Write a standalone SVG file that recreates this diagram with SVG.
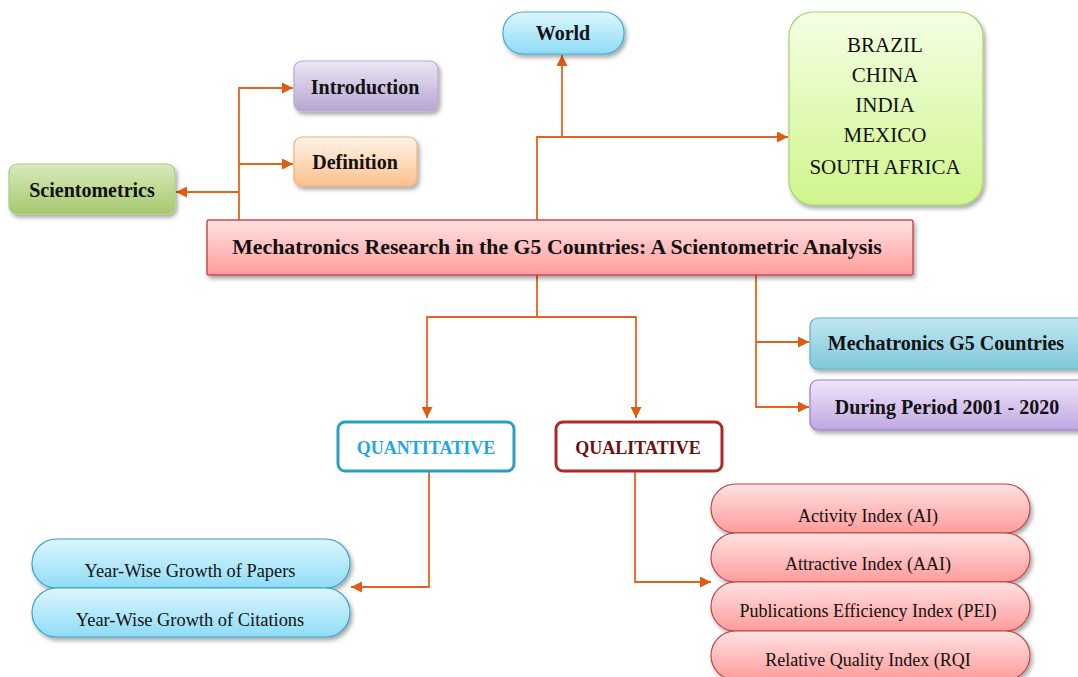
<svg xmlns="http://www.w3.org/2000/svg" width="1078" height="677" viewBox="0 0 1078 677">
<defs>
<style>
.b{font-family:"Liberation Serif","Times New Roman",serif;font-weight:bold;font-size:20px;fill:#111;text-anchor:middle}
.r{font-family:"Liberation Serif","Times New Roman",serif;font-size:18px;fill:#111;text-anchor:middle}
.c{fill:none;stroke:#e8621e;stroke-width:1.8;marker-end:url(#ah)}
.l{fill:none;stroke:#e8621e;stroke-width:1.8}
</style>
<marker id="ah" viewBox="0 0 10 10" refX="10" refY="5" markerWidth="11" markerHeight="11" markerUnits="userSpaceOnUse" orient="auto"><path d="M0,0 L10,5 L0,10 z" fill="#e05a10"/></marker>
<filter id="sh" x="-10%" y="-20%" width="130%" height="160%"><feDropShadow dx="2" dy="3" stdDeviation="2" flood-color="#000" flood-opacity="0.35"/></filter>
<linearGradient id="gGreen" x1="0" y1="0" x2="0" y2="1"><stop offset="0" stop-color="#d8ebbc"/><stop offset="1" stop-color="#a6c86c"/></linearGradient>
<linearGradient id="gPurple" x1="0" y1="0" x2="0" y2="1"><stop offset="0" stop-color="#ece6f4"/><stop offset="1" stop-color="#b6a6d2"/></linearGradient>
<linearGradient id="gOrange" x1="0" y1="0" x2="0" y2="1"><stop offset="0" stop-color="#fff4ea"/><stop offset="1" stop-color="#fbc08c"/></linearGradient>
<linearGradient id="gSky" x1="0" y1="0" x2="0" y2="1"><stop offset="0" stop-color="#dcf6ff"/><stop offset="1" stop-color="#8fdcf6"/></linearGradient>
<linearGradient id="gLime" x1="0" y1="0" x2="0" y2="1"><stop offset="0" stop-color="#f4ffe4"/><stop offset="1" stop-color="#cff58c"/></linearGradient>
<linearGradient id="gPink" x1="0" y1="0" x2="0" y2="1"><stop offset="0" stop-color="#ffe2e2"/><stop offset="1" stop-color="#ff9c9c"/></linearGradient>
<linearGradient id="gTeal" x1="0" y1="0" x2="0" y2="1"><stop offset="0" stop-color="#c2e6f0"/><stop offset="1" stop-color="#7ec8dc"/></linearGradient>
<linearGradient id="gLav" x1="0" y1="0" x2="0" y2="1"><stop offset="0" stop-color="#f0e6fa"/><stop offset="1" stop-color="#c0a6e2"/></linearGradient>
</defs>
<rect width="1078" height="677" fill="#fff"/>

<g id="connectors">
<path class="c" d="M239,220 V88 H293"/>
<path class="c" d="M239,164 H293"/>
<path class="c" d="M239,192 H176"/>
<path class="c" d="M537,220 V137 H788"/>
<path class="c" d="M562,137 V55"/>
<path class="l" d="M537,275 V317"/>
<path class="c" d="M537,317 H427 V418"/>
<path class="c" d="M537,317 H636 V418"/>
<path class="c" d="M756,275 V407 H809"/>
<path class="c" d="M756,342 H809"/>
<path class="c" d="M429,472 V587 H351"/>
<path class="c" d="M635,472 V582 H711"/>
</g>

<g id="scientometrics">
<rect x="9" y="164" width="166" height="50" rx="8" fill="url(#gGreen)" stroke="#b0cc88" stroke-width="1.2" filter="url(#sh)"/>
<text class="b" x="92" y="197">Scientometrics</text>
</g>
<g id="introduction">
<rect x="294" y="61" width="144" height="50" rx="8" fill="url(#gPurple)" stroke="#b8a8d4" stroke-width="1.2" filter="url(#sh)"/>
<text class="b" x="365" y="94">Introduction</text>
</g>
<g id="definition">
<rect x="294" y="137" width="123" height="49" rx="8" fill="url(#gOrange)" stroke="#f4b07a" stroke-width="1.2" filter="url(#sh)"/>
<text class="b" x="355" y="169">Definition</text>
</g>
<g id="world">
<rect x="503" y="12" width="121" height="42" rx="20" fill="url(#gSky)" stroke="#48a8cc" stroke-width="1.2" filter="url(#sh)"/>
<text class="b" x="563" y="40">World</text>
</g>
<g id="countries">
<rect x="789" y="12" width="194" height="193" rx="24" fill="url(#gLime)" stroke="#a8d070" stroke-width="1.2" filter="url(#sh)"/>
<text class="r" style="font-size:21px" x="885" y="52">BRAZIL</text>
<text class="r" style="font-size:21px" x="885" y="82">CHINA</text>
<text class="r" style="font-size:21px" x="885" y="112">INDIA</text>
<text class="r" style="font-size:21px" x="885" y="142">MEXICO</text>
<text class="r" style="font-size:21px" x="885" y="174">SOUTH AFRICA</text>
</g>
<g id="title">
<rect x="207" y="220" width="706" height="55" rx="2" fill="url(#gPink)" stroke="#cc4c4c" stroke-width="1.5" filter="url(#sh)"/>
<text class="b" style="font-size:21.8px" x="557" y="254">Mechatronics Research in the G5 Countries: A Scientometric Analysis</text>
</g>
<g id="mechatronics-g5">
<rect x="810" y="318" width="280" height="51" rx="8" fill="url(#gTeal)" stroke="#60b0c8" stroke-width="1.2" filter="url(#sh)"/>
<text class="b" x="946" y="350">Mechatronics G5 Countries</text>
</g>
<g id="period">
<rect x="810" y="380" width="280" height="50" rx="8" fill="url(#gLav)" stroke="#9480bc" stroke-width="1.2" filter="url(#sh)"/>
<text class="b" x="947" y="414">During Period 2001 - 2020</text>
</g>
<g id="quantitative">
<rect x="338" y="422" width="176" height="49" rx="7" fill="#fff" stroke="#2a9fc0" stroke-width="3"/>
<text class="b" style="font-size:18px;fill:#1ea6ec" x="426" y="454">QUANTITATIVE</text>
</g>
<g id="qualitative">
<rect x="556" y="422" width="166" height="49" rx="7" fill="#fff" stroke="#b02828" stroke-width="3"/>
<text class="b" style="font-size:18px;fill:#6e0e12" x="638" y="454">QUALITATIVE</text>
</g>
<g id="papers">
<rect x="32" y="539" width="318" height="49" rx="24.5" fill="url(#gSky)" stroke="#3aa0c4" stroke-width="1.2" filter="url(#sh)"/>
<text class="r" style="font-size:18.4px" x="190" y="577">Year-Wise Growth of Papers</text>
</g>
<g id="citations">
<rect x="32" y="588" width="318" height="49" rx="24.5" fill="url(#gSky)" stroke="#3aa0c4" stroke-width="1.2" filter="url(#sh)"/>
<text class="r" style="font-size:18.4px" x="190" y="626">Year-Wise Growth of Citations</text>
</g>
<g id="ai">
<rect x="711" y="484" width="319" height="49" rx="24.5" fill="url(#gPink)" stroke="#c04444" stroke-width="1.2" filter="url(#sh)"/>
<text class="r" x="868" y="522">Activity Index (AI)</text>
</g>
<g id="aai">
<rect x="711" y="533" width="319" height="49" rx="24.5" fill="url(#gPink)" stroke="#c04444" stroke-width="1.2" filter="url(#sh)"/>
<text class="r" x="868" y="570">Attractive Index (AAI)</text>
</g>
<g id="pei">
<rect x="711" y="582" width="319" height="49" rx="24.5" fill="url(#gPink)" stroke="#c04444" stroke-width="1.2" filter="url(#sh)"/>
<text class="r" x="868" y="617">Publications Efficiency Index (PEI)</text>
</g>
<g id="rqi">
<rect x="711" y="631" width="319" height="49" rx="24.5" fill="url(#gPink)" stroke="#c04444" stroke-width="1.2" filter="url(#sh)"/>
<text class="r" x="868" y="666">Relative Quality Index (RQI</text>
</g>
</svg>
